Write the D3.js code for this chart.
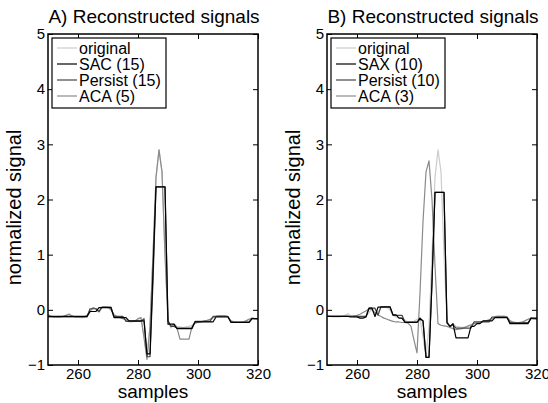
<!DOCTYPE html>
<html>
<head>
<meta charset="utf-8">
<script src="https://cdn.jsdelivr.net/npm/d3@7"></script>
<style>
  body { margin: 0; background: #fff; }
  text { font-family: "Liberation Sans", Arial, sans-serif; }
</style>
</head>
<body>
<div id="chart"></div>
<script>
// samples 250..320, one value per sample
const firstSample = 250
const xTicks = [260, 280, 300, 320]
const yTicks = [-1, 0, 1, 2, 3, 4, 5]

const original = [
  -0.08, -0.12, -0.13, -0.13, -0.13, -0.12, -0.10, -0.07, -0.11, -0.13,
  -0.13, -0.14, -0.14, -0.12, -0.05, 0.03, 0.01, -0.05, 0.04, 0.05,
  0.04, 0.00, -0.10, -0.13, -0.14, -0.16, -0.19, -0.22, -0.22, -0.21,
  -0.17, -0.15, -0.50, -0.85, -0.30, 1.00, 2.40, 2.90, 2.50, 1.00,
  -0.20, -0.33, -0.25, -0.30, -0.31, -0.32, -0.31, -0.30, -0.28, -0.24,
  -0.23, -0.22, -0.21, -0.20, -0.18, -0.15, -0.12, -0.11, -0.12, -0.11,
  -0.13, -0.20, -0.22, -0.23, -0.23, -0.22, -0.20, -0.17, -0.15, -0.16,
  -0.17]

// panel A
const sacA = [
  -0.12, -0.12, -0.12, -0.12, -0.12, -0.12, -0.12, -0.12, -0.12, -0.12,
  -0.12, -0.12, -0.12, -0.12, -0.03, -0.03, -0.03, 0.04, 0.04, 0.04,
  0.04, 0.04, -0.14, -0.14, -0.14, -0.14, -0.14, -0.20, -0.20, -0.20,
  -0.20, -0.20, -0.20, -0.80, -0.80, 0.70, 2.23, 2.23, 2.23, 2.23,
  -0.26, -0.26, -0.26, -0.34, -0.34, -0.34, -0.34, -0.34, -0.34, -0.22,
  -0.22, -0.22, -0.22, -0.22, -0.22, -0.22, -0.13, -0.13, -0.13, -0.13,
  -0.13, -0.23, -0.23, -0.23, -0.23, -0.23, -0.23, -0.23, -0.16, -0.16,
  -0.16]
const persistA = [
  -0.13, -0.13, -0.13, -0.13, -0.13, -0.13, -0.13, -0.13, -0.13, -0.13,
  -0.13, -0.13, -0.13, -0.13, 0.02, 0.02, 0.02, -0.03, 0.05, 0.05,
  0.05, 0.05, -0.12, -0.12, -0.12, -0.12, -0.21, -0.21, -0.21, -0.21,
  -0.21, -0.21, -0.16, -0.85, -0.85, 0.50, 2.23, 2.23, 2.23, 2.23,
  -0.20, -0.30, -0.30, -0.33, -0.33, -0.33, -0.33, -0.33, -0.33, -0.21,
  -0.21, -0.21, -0.21, -0.21, -0.21, -0.12, -0.12, -0.12, -0.12, -0.12,
  -0.12, -0.22, -0.22, -0.22, -0.22, -0.22, -0.22, -0.22, -0.16, -0.16,
  -0.16]
const acaA = [
  -0.09, -0.12, -0.13, -0.13, -0.13, -0.12, -0.10, -0.08, -0.11, -0.13,
  -0.13, -0.13, -0.13, -0.10, -0.02, 0.04, 0.02, -0.03, 0.05, 0.05,
  0.05, 0.00, -0.09, -0.12, -0.14, -0.16, -0.18, -0.21, -0.21, -0.20,
  -0.16, -0.14, -0.50, -0.90, -0.30, 1.00, 2.40, 2.90, 2.50, 1.00,
  -0.20, -0.30, -0.27, -0.33, -0.53, -0.53, -0.53, -0.53, -0.30, -0.24,
  -0.23, -0.22, -0.20, -0.19, -0.17, -0.14, -0.12, -0.11, -0.11, -0.11,
  -0.13, -0.20, -0.22, -0.23, -0.23, -0.22, -0.20, -0.17, -0.15, -0.16,
  -0.17]

// panel B
const saxB = [
  -0.12, -0.12, -0.12, -0.12, -0.12, -0.12, -0.12, -0.12, -0.13, -0.13,
  -0.13, -0.15, -0.15, -0.13, 0.03, 0.03, -0.12, 0.05, 0.05, 0.05,
  0.05, 0.05, -0.09, -0.09, -0.15, -0.15, -0.23, -0.23, -0.23, -0.23,
  -0.23, -0.15, -0.20, -0.86, -0.86, 0.50, 2.13, 2.13, 2.13, 2.13,
  -0.24, -0.30, -0.25, -0.51, -0.51, -0.51, -0.51, -0.51, -0.30, -0.30,
  -0.25, -0.25, -0.20, -0.20, -0.20, -0.20, -0.14, -0.14, -0.14, -0.14,
  -0.14, -0.25, -0.25, -0.25, -0.25, -0.25, -0.25, -0.25, -0.15, -0.15,
  -0.15]
const persistB = [
  -0.12, -0.12, -0.12, -0.12, -0.12, -0.12, -0.12, -0.12, -0.12, -0.12,
  -0.12, -0.12, -0.12, -0.12, 0.03, 0.03, 0.03, -0.10, 0.06, 0.06,
  0.06, 0.06, -0.10, -0.10, -0.10, -0.10, -0.22, -0.22, -0.22, -0.22,
  -0.22, -0.17, -0.20, -0.86, -0.86, 0.50, 2.13, 2.13, 2.13, 2.13,
  -0.22, -0.30, -0.27, -0.33, -0.33, -0.33, -0.33, -0.33, -0.33, -0.22,
  -0.22, -0.22, -0.22, -0.22, -0.22, -0.13, -0.13, -0.13, -0.13, -0.13,
  -0.13, -0.23, -0.23, -0.23, -0.23, -0.23, -0.23, -0.23, -0.16, -0.16,
  -0.16]
const acaB = [
  -0.12, -0.12, -0.12, -0.12, -0.12, -0.12, -0.12, -0.12, -0.12, -0.11,
  -0.10, -0.08, -0.05, -0.02, 0.02, 0.00, -0.05, -0.09, -0.12, -0.15,
  -0.17, -0.19, -0.21, -0.22, -0.22, -0.23, -0.23, -0.24, -0.30, -0.55,
  -0.78, 0.30, 1.60, 2.50, 2.70, 2.00, 0.80, -0.25, -0.28, -0.29,
  -0.30, -0.32, -0.34, -0.36, -0.35, -0.34, -0.32, -0.29, -0.27, -0.25,
  -0.24, -0.23, -0.21, -0.20, -0.18, -0.16, -0.13, -0.12, -0.12, -0.12,
  -0.13, -0.20, -0.22, -0.23, -0.23, -0.22, -0.20, -0.17, -0.15, -0.16,
  -0.17]

const seriesColors = ["#cccccc", "#000000", "#454545", "#8a8a8a"]

const panels = [
  { left: 48, title: "A) Reconstructed signals",
    names: ["original", "SAC (15)", "Persist (15)", "ACA (5)"],
    series: [original, sacA, persistA, acaA] },
  { left: 327, title: "B) Reconstructed signals",
    names: ["original", "SAX (10)", "Persist (10)", "ACA (3)"],
    series: [original, saxB, persistB, acaB] }
]

const width = 548
const height = 403
const plotW = 210
const plotTop = 34
const plotBottom = 365

const svg = d3.select("#chart").append("svg")
  .attr("width", width)
  .attr("height", height)

const y = d3.scaleLinear().domain([-1, 5]).range([plotBottom, plotTop])

panels.forEach(function(p, pi) {
  const x = d3.scaleLinear().domain([250, 320]).range([p.left, p.left + plotW])

  svg.append("clipPath").attr("id", "clip" + pi)
    .append("rect")
    .attr("x", p.left).attr("y", plotTop)
    .attr("width", plotW).attr("height", plotBottom - plotTop)

  const line = d3.line()
    .x((d, i) => x(firstSample + i))
    .y(d => y(d))

  // draw original first, then the reconstructions on top
  const g = svg.append("g").attr("clip-path", "url(#clip" + pi + ")")
  const order = [0, 3, 2, 1]
  order.forEach(function(k) {
    g.append("path")
      .datum(p.series[k])
      .attr("d", line)
      .attr("fill", "none")
      .attr("stroke", seriesColors[k])
      .attr("stroke-width", 1.2)
      .attr("stroke-linejoin", "round")
  })

  // axes, ticks inside like matlab
  const axes = [
    [d3.axisBottom(x).tickValues(xTicks), `translate(0,${plotBottom})`, true],
    [d3.axisTop(x).tickValues(xTicks), `translate(0,${plotTop})`, false],
    [d3.axisLeft(y).tickValues(yTicks), `translate(${p.left},0)`, true],
    [d3.axisRight(y).tickValues(yTicks), `translate(${p.left + plotW},0)`, false]
  ]
  axes.forEach(function(a) {
    const ax = a[0].tickSizeInner(-5).tickSizeOuter(0).tickPadding(3)
    ax.tickFormat(a[2] ? d3.format("d") : "")
    const ag = svg.append("g").attr("transform", a[1]).call(ax)
    ag.select(".domain").remove()
    ag.selectAll("line").attr("stroke", "#000").attr("stroke-width", 1)
    ag.selectAll("text").attr("font-size", 15).attr("fill", "#000")
  })

  svg.append("rect")
    .attr("x", p.left).attr("y", plotTop)
    .attr("width", plotW).attr("height", plotBottom - plotTop)
    .attr("fill", "none")
    .attr("stroke", "#000")
    .attr("stroke-width", 1.5)

  // title and labels
  svg.append("text")
    .attr("x", p.left + plotW / 2 + 1)
    .attr("y", 23)
    .attr("text-anchor", "middle")
    .attr("font-size", 19)
    .text(p.title)

  svg.append("text")
    .attr("x", p.left + plotW / 2)
    .attr("y", 398)
    .attr("text-anchor", "middle")
    .attr("font-size", 19)
    .text("samples")

  svg.append("text")
    .attr("transform", `translate(${p.left - 27},${(plotTop + plotBottom) / 2 + 8}) rotate(-90)`)
    .attr("text-anchor", "middle")
    .attr("font-size", 20)
    .text("normalized signal")

  // legend
  const lg = svg.append("g").attr("transform", `translate(${p.left + 4},38)`)
  lg.append("rect")
    .attr("width", 114).attr("height", 70)
    .attr("fill", "#fff")
    .attr("stroke", "#000")
    .attr("stroke-width", 1.2)
  p.names.forEach(function(name, k) {
    const ry = 10 + k * 16
    lg.append("line")
      .attr("x1", 5).attr("x2", 25)
      .attr("y1", ry).attr("y2", ry)
      .attr("stroke", seriesColors[k])
      .attr("stroke-width", 1.2)
    lg.append("text")
      .attr("x", 27).attr("y", ry + 5.5)
      .attr("font-size", 16)
      .text(name)
  })
})
</script>
</body>
</html>
